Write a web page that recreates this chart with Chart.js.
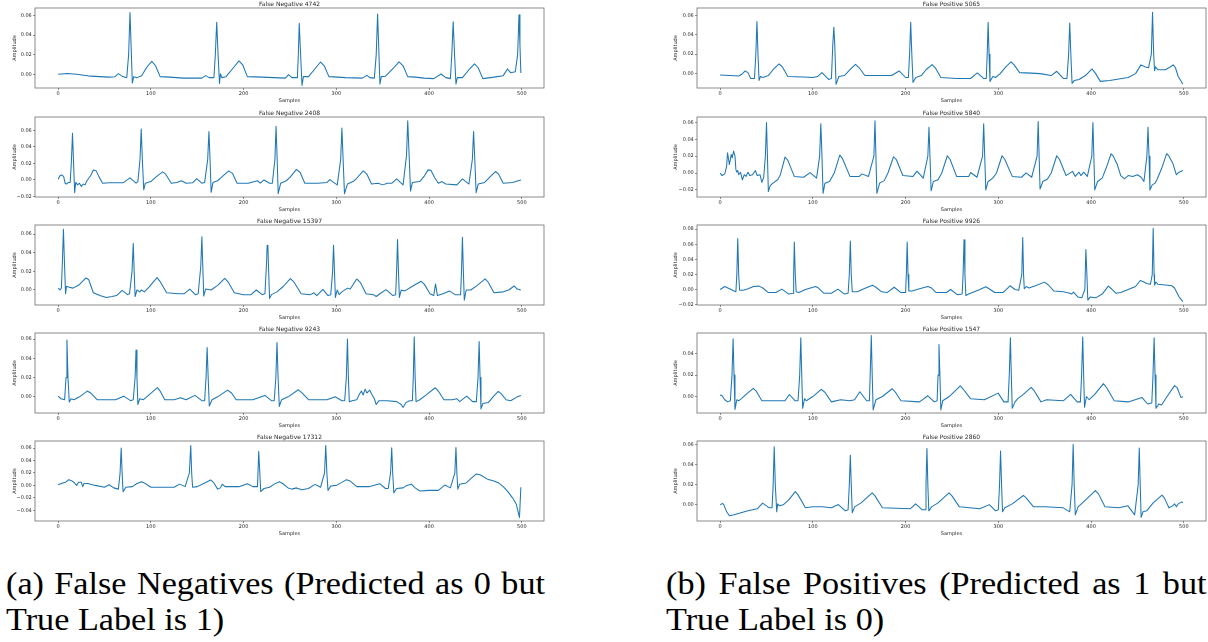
<!DOCTYPE html>
<html><head><meta charset="utf-8">
<script src="https://cdn.jsdelivr.net/npm/chart.js@4.4.1/dist/chart.umd.min.js"></script>
<style>
html,body{margin:0;padding:0;background:#fff;width:1208px;height:642px;overflow:hidden;position:relative}
canvas{position:absolute}
.cap{position:absolute;font-family:'Liberation Serif';font-size:32px;line-height:32px;color:#000;white-space:nowrap;transform-origin:0 0}
</style></head><body>
<div class="cap" id="c1a" style="left:6px;top:567px">(a) False Negatives (Predicted as 0 but</div>
<div class="cap" id="c1b" style="left:6px;top:603px">True Label is 1)</div>
<div class="cap" id="c2a" style="left:666px;top:567px">(b) False Positives (Predicted as 1 but</div>
<div class="cap" id="c2b" style="left:666px;top:603px">True Label is 0)</div>
<script>
// ---------------- data (sample index, amplitude) ----------------
const xTicks = [0, 100, 200, 300, 400, 500];

const fn4742 = [[0,0.0005],[10,0.0012],[20,0.0005],[35,-0.0015],[55,-0.0025],[61,-0.0022],[65,0.0010],[69,-0.0015],[74,-0.003],[76,0.02],[77.5,0.063],[79,0.02],[80,-0.0085],[81.5,-0.002],[85,-0.003],[90,-0.001],[96,0.008],[101,0.0135],[105,0.009],[110,-0.002],[120,-0.0025],[135,-0.0035],[155,-0.0035],[159,-0.001],[163,-0.003],[168,-0.003],[169.5,0.02],[171,0.053],[172.5,0.02],[174,-0.009],[175,0.001],[176.5,-0.003],[181,-0.002],[189,0.007],[195,0.014],[199,0.01],[204,-0.002],[220,-0.0025],[245,-0.0035],[248.5,0.0],[252,-0.003],[258,-0.003],[259,0.02],[260,0.052],[261.5,0.02],[263,-0.011],[264.5,-0.002],[270,-0.002],[277,0.006],[283,0.0128],[287,0.009],[292,-0.002],[310,-0.003],[328,-0.0035],[333,-0.0007],[336,-0.003],[341,-0.0035],[343,0.02],[344.5,0.0613],[346,0.02],[347,-0.0095],[348.5,-0.002],[353,-0.0015],[361,0.006],[367.6,0.013],[372,0.009],[377,-0.002],[385,-0.0025],[395,-0.0035],[405,-0.004],[413,0.0007],[418,-0.003],[423,-0.004],[424.5,0.02],[426,0.0535],[427.5,0.02],[429,-0.0095],[430.5,-0.003],[436,-0.003],[443,0.005],[449,0.011],[453,0.007],[458,-0.004],[470,-0.0025],[480,-0.001],[484.5,0.0057],[488,0.002],[493,0.003],[495.5,0.02],[497,0.0607],[498,0.03],[499,0.0017]];

const fn2408 = [[0,0.0008],[2,0.005],[4,0.006],[6,0.004],[7.5,-0.004],[9,-0.005],[11,-0.003],[13,-0.003],[14.2,0.02],[15.5,0.0567],[16.5,0.025],[17.8,-0.0155],[19,-0.003],[21,-0.006],[23,-0.004],[25,-0.008],[27,-0.005],[29,-0.006],[31,-0.001],[33,0.002],[35,0.005],[38,0.012],[41,0.011],[44,0.004],[48,-0.004],[55,-0.0035],[70,-0.0035],[77.5,0.0025],[84,-0.004],[86,-0.002],[88.3,0.025],[89.6,0.0616],[90.8,0.025],[92.3,-0.012],[94,-0.004],[100,-0.002],[106,0.004],[112.7,0.0098],[116,0.007],[122,-0.004],[128,-0.003],[133,-0.001],[138,-0.004],[145,-0.0035],[149.4,0.0015],[155,-0.004],[158,-0.003],[161.3,0.025],[162.6,0.0588],[163.8,0.025],[165,-0.015],[167,-0.003],[172,-0.001],[176,0.003],[184,0.011],[188,0.008],[193,-0.004],[205,-0.004],[215,-0.001],[218,-0.004],[222,0.0],[228,-0.004],[231,-0.004],[233.8,0.025],[235,0.065],[236.2,0.025],[237.3,-0.0167],[240,-0.004],[246,-0.001],[250,0.003],[257,0.0127],[261,0.009],[266,-0.004],[280,-0.004],[290,-0.003],[293,0.0004],[297,-0.003],[301,-0.006],[304.7,0.025],[306,0.063],[307.3,0.025],[308.8,-0.0167],[312,-0.005],[318,-0.002],[322,0.002],[329,0.011],[333,0.007],[338,-0.005],[345,-0.004],[350,-0.006],[355,-0.004],[360,-0.004],[365,0.0012],[369,-0.003],[372,-0.006],[375.7,0.03],[377,0.0718],[378.5,0.03],[380,-0.0135],[382,-0.003],[390,-0.002],[395,0.005],[399,0.0122],[402,0.0118],[406,0.003],[410,-0.004],[414,-0.002],[418,-0.005],[430,-0.006],[436,0.0012],[443,-0.005],[446.7,0.025],[448,0.0588],[449.3,0.025],[450.8,-0.0155],[453,-0.005],[460,-0.003],[466,0.004],[471.6,0.0102],[475,0.007],[480,-0.004],[490,-0.003],[499,0.0]];

const fn15397 = [[0,0.002],[2,0.0],[3.5,0.002],[4.6,0.03],[5.7,0.065],[6.8,0.03],[8,-0.004],[9,0.004],[12,0.003],[16,0.002],[22,0.005],[30,0.013],[33,0.011],[38,-0.003],[45,-0.006],[52,-0.008],[58,-0.007],[63,-0.006],[69,-0.0005],[75,-0.005],[77,-0.004],[79.7,0.02],[81,0.05],[82,0.02],[83,-0.007],[85,0.0],[88,-0.002],[90,0.0],[93,-0.002],[98,0.003],[106.6,0.0132],[110,0.009],[117,-0.003],[130,-0.004],[136,-0.004],[142,0.001],[148,-0.005],[151,-0.004],[153.8,0.025],[155,0.057],[156,0.025],[157,-0.0065],[159,0.001],[165,0.0],[172,0.005],[179.7,0.0125],[183,0.009],[190,-0.003],[200,-0.005],[208,-0.005],[213.7,0.0],[220,-0.005],[223,-0.004],[224.8,0.03],[225.4,0.048],[226.2,0.047],[227,0.02],[228,-0.009],[230,-0.005],[236,-0.002],[243,0.004],[250.4,0.0122],[254,0.009],[262,-0.004],[272,-0.005],[276,-0.003],[279,-0.006],[285.5,0.0007],[291,-0.006],[294,-0.005],[296,0.02],[297,0.048],[298,0.02],[299,-0.008],[301,0.0],[303,-0.005],[306,-0.002],[312,0.002],[315,0.001],[322,0.0118],[326,0.008],[332,-0.004],[340,-0.005],[343,-0.007],[347,-0.004],[353.6,0.0004],[361,-0.006],[364,-0.005],[365,0.02],[366,0.054],[367,0.02],[368,-0.008],[370,0.0],[374,-0.001],[382,0.004],[391.5,0.0093],[395,0.006],[401,-0.004],[405,-0.006],[407,0.0065],[409,-0.006],[415,-0.004],[422,-0.001],[428,-0.005],[434,-0.005],[435,0.02],[436,0.0565],[437,0.02],[438,-0.011],[440,0.0],[445,0.0],[452,0.005],[460.5,0.012],[464,0.008],[470,-0.003],[480,-0.002],[486,0.0],[491.7,0.0043],[495,0.001],[499,0.0]];

const fn9243 = [[0,0.0007],[3,-0.002],[7,-0.003],[8.5,0.02],[9.5,0.059],[10.6,0.02],[12,-0.0055],[14,-0.002],[17,-0.003],[23,0.0],[31.4,0.006],[35,0.004],[42,-0.003],[55,-0.003],[62,-0.003],[70.7,0.0007],[78,-0.004],[81,-0.003],[83,0.02],[84,0.0485],[85,0.02],[86,-0.008],[88,-0.002],[92,-0.003],[98,0.002],[107,0.0095],[110,0.006],[115,-0.003],[125,-0.003],[132,-0.001],[138,-0.003],[147.5,0.0015],[155,-0.004],[158,-0.004],[159.5,0.02],[160.7,0.0513],[161.8,0.02],[163,-0.0095],[166,-0.003],[172,0.0],[182.7,0.007],[187,0.004],[192,-0.003],[210,-0.003],[223,0.0015],[230,-0.004],[233,-0.004],[234.8,0.02],[236,0.0565],[237.2,0.02],[238.5,-0.01],[241,-0.003],[248,0.0],[259,0.0073],[263,0.004],[270,-0.003],[290,-0.003],[298.8,0.0],[306,-0.004],[309,-0.004],[310.8,0.02],[312,0.06],[313,0.02],[314,-0.005],[317,-0.004],[322,-0.003],[325,0.003],[327,0.006],[329,0.002],[331,0.008],[333,0.004],[336,0.007],[338,0.003],[341,-0.002],[343,-0.008],[346,-0.004],[355,-0.004],[365,-0.005],[370,-0.008],[372,-0.011],[375,-0.006],[379,-0.004],[382,-0.004],[383,0.02],[384,0.0623],[385,0.02],[386,-0.005],[390,-0.003],[397,0.002],[406.6,0.0094],[410,0.006],[416,-0.003],[425,-0.003],[430,-0.002],[433,-0.005],[440.6,0.0007],[447,-0.005],[451,-0.005],[452.8,0.02],[454,0.0575],[455,0.02],[456,-0.0125],[458,-0.007],[464,-0.006],[469,0.0],[474.6,0.0056],[478,0.003],[483,-0.003],[488,-0.004],[495,0.0],[499,0.0013]];

const fn17312 = [[0,0.001],[5,0.004],[8,0.005],[11.3,0.0092],[14,0.008],[17,0.005],[20,0.0],[22,0.005],[25,0.005],[26.5,-0.002],[28,0.003],[32,0.003],[40,0.0],[50,-0.003],[55,0.001],[60,-0.004],[65,-0.006],[66.8,0.02],[68,0.06],[69,0.02],[70,-0.01],[73,-0.003],[80,-0.002],[85,0.003],[90,0.006],[93,0.004],[100,-0.003],[115,-0.003],[125,-0.003],[131,0.002],[137,-0.002],[141.5,0.02],[143,0.064],[144,0.02],[145,-0.003],[150,-0.002],[157,0.003],[164.5,0.0087],[168,0.004],[172,-0.006],[175,-0.004],[177,0.002],[180,-0.002],[195,-0.002],[204,0.0027],[210,-0.002],[215,-0.002],[216.3,0.0546],[217.5,0.02],[218.5,-0.01],[222,-0.005],[228,-0.003],[233,0.002],[238.6,0.006],[242,0.003],[248,-0.004],[252,-0.006],[257,-0.004],[263,-0.007],[270,-0.005],[277,0.0016],[283,-0.003],[287.3,0.02],[288.6,0.064],[289.8,0.02],[291,-0.008],[294,-0.001],[300,0.0],[305,0.004],[310.9,0.0092],[315,0.007],[322,-0.002],[335,-0.002],[346.8,0.0027],[353,-0.005],[356,-0.005],[358.5,0.02],[359.7,0.0605],[360.8,0.02],[362,-0.012],[365,-0.005],[372,-0.004],[376,0.0],[380.8,0.002],[385,-0.004],[390,-0.009],[400,-0.008],[410,-0.008],[417,0.0005],[423,-0.004],[427.8,0.02],[429,0.061],[430,0.02],[431,-0.006],[433,0.002],[440,0.004],[446,0.012],[451,0.0184],[455,0.017],[463,0.01],[470,0.007],[475,0.004],[480,-0.002],[485,-0.01],[490,-0.02],[494,-0.03],[497.5,-0.0514],[499,-0.003]];

const fp5065 = [[0,-0.0014],[10,-0.002],[20,-0.0025],[23,-0.001],[27,0.0027],[30,0.001],[33,-0.005],[37,-0.005],[38.5,0.02],[39.7,0.0537],[40.8,0.02],[42,-0.007],[43.5,-0.003],[46,-0.004],[52,-0.002],[57,0.004],[63.6,0.0099],[67,0.007],[73,-0.003],[90,-0.0035],[100,-0.004],[105,-0.003],[109.8,0.001],[117,-0.006],[120,-0.005],[121.5,0.03],[122.6,0.0476],[123.6,0.03],[125,-0.011],[128,-0.003],[134,-0.002],[140,0.004],[146,0.0096],[150,0.006],[156,-0.002],[170,-0.002],[185,-0.002],[193,0.0027],[200,-0.004],[203,-0.004],[204.3,0.02],[205.5,0.0527],[206.7,0.02],[208,-0.009],[211,-0.004],[217,-0.002],[222,0.004],[228.6,0.0092],[232,0.006],[238,-0.004],[255,-0.005],[270,-0.005],[277.4,0.0007],[284,-0.005],[287,-0.005],[288,0.02],[289,0.0527],[290,0.02],[291,-0.008],[294,-0.003],[297,-0.004],[302,0.0],[308,0.007],[313.8,0.012],[317,0.009],[323,0.001],[335,0.0005],[345,0.0],[357,-0.002],[363,0.0024],[370,-0.005],[374,-0.005],[375.8,0.02],[377,0.052],[378.2,0.02],[379.5,-0.01],[382,-0.007],[387,-0.006],[394,-0.002],[401,0.0048],[405,0.0],[410,-0.008],[420,-0.007],[440,-0.004],[448,0.0],[453.8,0.009],[458,0.007],[462,0.006],[465,0.02],[466.3,0.063],[467.5,0.02],[468.5,0.003],[469.5,0.007],[472,0.004],[480,0.004],[484,0.006],[488.6,0.009],[491,0.006],[494,-0.003],[499,-0.011]];

const fp5840 = [[0,0.0],[2,-0.003],[5,-0.001],[7,0.008],[8,0.024],[10,0.01],[12,0.022],[13,0.018],[14.5,0.026],[16,0.02],[17,0.004],[18,0.001],[19,0.003],[20,-0.002],[22,0.001],[24,-0.008],[26,-0.002],[28,-0.004],[30,0.001],[32,-0.003],[35,-0.002],[38,0.003],[40,-0.003],[43,-0.002],[45,-0.011],[47,-0.005],[48.8,0.02],[50,0.06],[51,0.02],[52,-0.022],[54,-0.015],[57,-0.012],[62,-0.008],[65,-0.002],[70,0.019],[73,0.015],[80,-0.004],[90,-0.005],[97,0.0005],[104,-0.006],[107.3,0.02],[108.6,0.0583],[109.8,0.02],[111,-0.024],[113,-0.012],[118,-0.01],[123,0.0],[129,0.0213],[132,0.017],[140,-0.004],[150,-0.004],[153,-0.001],[160,-0.004],[165.8,0.02],[167,0.062],[168,0.02],[169,-0.024],[172,-0.012],[177,-0.009],[181,0.0],[187,0.0193],[190,0.016],[197,-0.003],[208,-0.004],[212.3,0.0022],[219,-0.006],[224,0.02],[225.2,0.0543],[226.3,0.02],[227.5,-0.021],[230,-0.01],[235,-0.008],[239,0.0],[245,0.0205],[248,0.016],[255,-0.004],[268,-0.004],[270.2,0.0006],[277,-0.005],[283,0.02],[284.2,0.0583],[285.3,0.02],[286.5,-0.02],[289,-0.01],[294,-0.006],[298,0.0],[304,0.0205],[307,0.016],[315,-0.004],[325,-0.005],[330,0.0002],[336,-0.005],[341.8,0.02],[343,0.061],[344,0.02],[345,-0.019],[348,-0.01],[353,-0.007],[357,0.0],[363,0.0205],[366,0.016],[373,-0.003],[380,0.002],[383,-0.004],[387,0.001],[389,-0.003],[392,0.001],[396,-0.004],[400.8,0.02],[402,0.06],[403,0.02],[404,-0.02],[407,-0.01],[412,-0.006],[416,0.005],[421.6,0.0228],[424,0.02],[426,0.015],[428,0.011],[432,-0.003],[436,-0.007],[440,-0.003],[445,-0.004],[450,-0.002],[454,-0.005],[457,-0.01],[460.2,0.02],[461.4,0.0543],[462.5,0.02],[463.5,-0.02],[466,-0.014],[469,-0.012],[471,-0.008],[476,0.005],[481.5,0.023],[484,0.02],[488,0.012],[492,-0.002],[495,0.001],[499,0.003]];

const fp9926 = [[0,0.0],[5,0.004],[10,0.001],[15,-0.002],[17,-0.003],[18,0.02],[19,0.0676],[20,0.02],[21,-0.001],[25,-0.001],[30,0.001],[36,0.004],[42,0.0045],[46,0.002],[52,-0.004],[60,-0.004],[66.6,0.0005],[74,-0.006],[78.8,-0.005],[79.3,0.02],[80,0.063],[81,0.02],[82,-0.003],[85,-0.004],[92,0.0],[103,0.004],[106,0.002],[112,-0.005],[120,-0.005],[127,0.0005],[134,-0.006],[138,-0.005],[139.3,0.02],[140.4,0.0644],[141.4,0.02],[142.5,-0.003],[148,-0.003],[155,0.001],[164.3,0.0058],[168,0.003],[174,-0.003],[180,-0.004],[187.7,0.003],[195,-0.004],[200,-0.004],[200.8,0.02],[201.7,0.063],[202.6,0.02],[203.5,-0.002],[207,-0.002],[215,0.001],[224,0.004],[228,0.002],[233,-0.004],[244,-0.004],[248.6,0.0],[256,-0.007],[261,-0.006],[262,0.02],[263,0.0658],[264,0.02],[265,-0.008],[268,-0.006],[272,-0.004],[280,0.0],[286.5,0.0036],[290,0.001],[296,-0.004],[305,-0.004],[312.6,0.005],[318,0.0],[322,-0.001],[325.3,0.02],[326.3,0.069],[327.2,0.02],[328,0.001],[330,0.004],[333,0.002],[340,0.005],[349.7,0.0098],[354,0.006],[360,-0.002],[370,-0.003],[377,-0.005],[379,-0.006],[381,-0.0035],[386,-0.01],[390,-0.011],[393.3,0.0],[394.4,0.053],[395.5,0.02],[396.5,-0.014],[399,-0.01],[405,-0.011],[412,-0.006],[418.6,0.0045],[422,0.001],[427,-0.005],[432,-0.004],[440,0.0],[448,0.004],[453,0.012],[457,0.01],[460,0.008],[464,0.007],[466,0.02],[467,0.081],[468,0.02],[468.5,0.006],[470,0.01],[472,0.007],[480,0.006],[487,0.005],[490,0.002],[495,-0.01],[499,-0.016]];

const fp1547 = [[0,0.0013],[2,0.001],[5,-0.003],[8,-0.005],[11,-0.004],[12.8,0.02],[14,0.054],[15,0.02],[16,-0.012],[18,-0.003],[20,-0.004],[23,-0.002],[28,0.002],[35.6,0.0077],[39,0.005],[45,-0.004],[60,-0.004],[70,-0.004],[74.6,0.0019],[81,-0.004],[84,-0.004],[85.8,0.02],[87,0.055],[88,0.02],[89,-0.011],[91,-0.002],[93,-0.004],[100,0.0],[109,0.0067],[113,0.004],[120,-0.005],[130,-0.003],[140,-0.004],[145,-0.003],[150.6,0.0045],[158,-0.004],[161,-0.004],[161.8,0.02],[163,0.057],[164,0.02],[165,-0.0125],[168,-0.003],[175,0.0],[185.5,0.0073],[189,0.004],[195,-0.004],[215,-0.005],[224,0.0007],[231,-0.005],[234,-0.004],[235,0.02],[236,0.0486],[237,0.02],[238,-0.0125],[240,-0.004],[247,0.0],[259,0.01],[262,0.007],[270,-0.002],[285,-0.003],[299.8,0.0032],[306,-0.005],[310.5,-0.005],[311.8,0.02],[313,0.055],[314,0.02],[315,-0.011],[318,-0.005],[321,-0.002],[327,0.002],[335.4,0.0086],[339,0.005],[346,-0.005],[352,-0.003],[370,-0.004],[378,0.002],[385,-0.005],[388.5,-0.005],[389.8,0.02],[391,0.0557],[392,0.02],[393,-0.01],[395,0.0],[398,-0.003],[404,0.002],[413.3,0.012],[417,0.008],[425,-0.004],[440,-0.005],[455,-0.001],[461,-0.007],[465.5,-0.006],[466.8,0.02],[468,0.055],[469,0.02],[470,-0.011],[473,-0.007],[476,-0.008],[482,0.0],[490,0.0102],[493,0.008],[497,-0.001],[499,0.0]];

const fp2860 = [[0,0.0],[2.5,0.0015],[4,0.0],[7,-0.007],[10,-0.011],[15,-0.01],[30,-0.006],[40,-0.004],[45.8,0.0017],[53,-0.003],[56,-0.003],[57.2,0.02],[58.3,0.0583],[59.5,0.02],[61,-0.007],[62,0.001],[64,-0.001],[68,0.0],[74,0.005],[81,0.0132],[84,0.01],[92,-0.003],[100,-0.002],[110,-0.002],[120,-0.003],[127.5,0.0003],[135,-0.006],[138,-0.005],[139.3,0.02],[140.4,0.0497],[141.4,0.02],[142.5,-0.008],[145,-0.002],[152,0.002],[164,0.012],[167,0.009],[175,-0.003],[205,-0.004],[210.8,0.001],[218,-0.005],[221,-0.005],[222,0.02],[223,0.0565],[224,0.02],[225,-0.006],[228,-0.002],[235,0.002],[246.8,0.012],[250,0.009],[258,-0.002],[280,-0.004],[290.3,0.0002],[297,-0.006],[300,-0.005],[301.3,0.02],[302.4,0.054],[303.5,0.02],[304.5,-0.007],[307,-0.003],[315,0.001],[327,0.0094],[330,0.007],[338,-0.002],[350,-0.002],[370,-0.003],[377,-0.007],[379.5,0.02],[380.7,0.0607],[381.8,0.02],[383,-0.01],[386,-0.002],[393,0.004],[404.6,0.0142],[408,0.011],[415,-0.002],[430,-0.003],[439.8,-0.001],[447,-0.01],[450.8,0.02],[452,0.057],[453,0.02],[454,-0.0125],[456,-0.007],[460,-0.006],[467,0.002],[476.5,0.0097],[479,0.007],[484,-0.003],[488,-0.001],[490,0.001],[492,-0.002],[494,0.001],[498,0.003],[499,0.002]];

// y tick values per panel
const yTicks4742  = [0, 0.02, 0.04, 0.06];
const yTicks2408  = [-0.02, 0, 0.02, 0.04, 0.06];
const yTicks15397 = [0, 0.02, 0.04, 0.06];
const yTicks9243  = [0, 0.02, 0.04, 0.06];
const yTicks17312 = [-0.04, -0.02, 0, 0.02, 0.04, 0.06];
const yTicks5065  = [0, 0.02, 0.04, 0.06];
const yTicks5840  = [-0.02, 0, 0.02, 0.04, 0.06];
const yTicks9926  = [-0.02, 0, 0.02, 0.04, 0.06, 0.08];
const yTicks1547  = [0, 0.02, 0.04];
const yTicks2860  = [0, 0.02, 0.04, 0.06];

// ---------------- panel config ----------------
const panels = [
  {title:'False Negative 4742',  pts:fn4742,  yt:yTicks4742,  ymin:-0.0135, ymax:0.0675, col:0, row:0},
  {title:'False Negative 2408',  pts:fn2408,  yt:yTicks2408,  ymin:-0.0207, ymax:0.0763, col:0, row:1},
  {title:'False Negative 15397', pts:fn15397, yt:yTicks15397, ymin:-0.0161, ymax:0.0697, col:0, row:2},
  {title:'False Negative 9243',  pts:fn9243,  yt:yTicks9243,  ymin:-0.0168, ymax:0.0663, col:0, row:3},
  {title:'False Negative 17312', pts:fn17312, yt:yTicks17312, ymin:-0.0572, ymax:0.0713, col:0, row:4},
  {title:'False Positive 5065',  pts:fp5065,  yt:yTicks5065,  ymin:-0.0148, ymax:0.0675, col:1, row:0},
  {title:'False Positive 5840',  pts:fp5840,  yt:yTicks5840,  ymin:-0.0284, ymax:0.0664, col:1, row:1},
  {title:'False Positive 9926',  pts:fp9926,  yt:yTicks9926,  ymin:-0.0205, ymax:0.0855, col:1, row:2},
  {title:'False Positive 1547',  pts:fp1547,  yt:yTicks1547,  ymin:-0.0154, ymax:0.0594, col:1, row:3},
  {title:'False Positive 2860',  pts:fp2860,  yt:yTicks2860,  ymin:-0.0162, ymax:0.0640, col:1, row:4}
];

const colLeft = [35, 697];
const rowTop = [8, 117, 225, 333, 441];
const YW = 35, TH = 8, XH = 16, PW = 509, PH = 80, PADR = 2;
const FONT = 'DejaVu Sans';
const TXT = '#262626';

function fmt(v){
  const r = Math.round(v*100)/100;
  if (Math.abs(r) < 1e-9) return '0.00';
  return (r < 0 ? '\u2212' : '') + Math.abs(r).toFixed(2);
}

const framePlugin = {
  id:'frame',
  afterDraw(chart){
    const {ctx, chartArea:a} = chart;
    ctx.save();
    ctx.strokeStyle = '#5a5a5a';
    ctx.lineWidth = 0.7;
    ctx.strokeRect(a.left, a.top, a.right - a.left, a.bottom - a.top);
    ctx.restore();
  }
};

panels.forEach(p => {
  const c = document.createElement('canvas');
  const W = YW + PW + PADR, H = TH + PH + XH;
  c.width = W; c.height = H;
  c.style.width = W + 'px'; c.style.height = H + 'px';
  c.style.left = (colLeft[p.col] - YW) + 'px';
  c.style.top = (rowTop[p.row] - TH) + 'px';
  document.body.appendChild(c);
  new Chart(c, {
    type:'line',
    data:{datasets:[{
      data: p.pts.map(([x,y]) => ({x, y})),
      borderColor:'#1f77b4', borderWidth:1.05, pointRadius:0, tension:0,
      borderJoinStyle:'round', fill:false
    }]},
    options:{
      responsive:false, animation:false, devicePixelRatio:1,
      layout:{padding:{left:0, right:PADR, top:0, bottom:0}},
      plugins:{
        legend:{display:false}, tooltip:{enabled:false},
        title:{display:true, text:p.title, fullSize:false, color:TXT,
               font:{family:FONT, size:6, weight:'normal', lineHeight:1.2},
               padding:{top:0.8, bottom:0}}
      },
      scales:{
        x:{type:'linear', min:-24.95, max:523.95,
           afterBuildTicks: s => { s.ticks = xTicks.map(v => ({value:v})); },
           afterFit: s => { s.height = XH; },
           ticks:{font:{family:FONT, size:5}, color:TXT, padding:1.2, maxRotation:0, autoSkip:false,
                  callback: v => String(v)},
           grid:{display:true, drawOnChartArea:false, drawTicks:true, tickLength:2, tickColor:'#444', tickWidth:0.6},
           border:{display:false},
           title:{display:true, text:'Samples', color:TXT, font:{family:FONT, size:5, lineHeight:1.2}, padding:{top:0, bottom:0.3}}
        },
        y:{type:'linear', min:p.ymin, max:p.ymax,
           afterBuildTicks: s => { s.ticks = p.yt.map(v => ({value:v})); },
           afterFit: s => { s.width = YW; },
           ticks:{font:{family:FONT, size:5}, color:TXT, padding:1.2, autoSkip:false, callback: v => fmt(v)},
           grid:{display:true, drawOnChartArea:false, drawTicks:true, tickLength:2, tickColor:'#444', tickWidth:0.6},
           border:{display:false},
           title:{display:true, text:'Amplitude', color:TXT, font:{family:FONT, size:5, lineHeight:1.2}, padding:{top:p.col ? 10.5 : 11.5, bottom:0}}
        }
      }
    },
    plugins:[framePlugin]
  });
});

// captions: emulate LaTeX-like widths
function layoutCaps(){
  const pairs = [['c1a','c1b',539],['c2a','c2b',540]];
  pairs.forEach(([a,b,wa]) => {
    const ea = document.getElementById(a), eb = document.getElementById(b);
    ea.style.transform = 'none'; eb.style.transform = 'none'; ea.style.wordSpacing = '0px';
    const s = 218 / eb.offsetWidth;
    eb.style.transform = 'scaleX(' + s + ')';
    const nat = ea.offsetWidth;
    const spaces = (ea.textContent.match(/ /g) || []).length;
    ea.style.wordSpacing = ((wa / s - nat) / spaces) + 'px';
    ea.style.transform = 'scaleX(' + s + ')';
  });
}
if (document.fonts && document.fonts.ready) document.fonts.ready.then(layoutCaps);
layoutCaps();
</script>
</body></html>
